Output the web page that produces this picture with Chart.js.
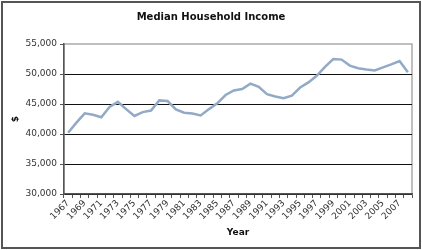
<!DOCTYPE html>
<html lang="en">
<head>
<meta charset="UTF-8">
<title>Median Household Income</title>
<script src="https://cdn.jsdelivr.net/npm/chart.js"></script>
<style>
  body { margin: 0; background: #fff; }
  .wrap { position: relative; width: 422px; height: 250px; }
</style>
</head>
<body>
<div class="wrap"><canvas id="chart"></canvas></div>
<script>
// data
var years = [1967, 1968, 1969, 1970, 1971, 1972, 1973, 1974, 1975, 1976, 1977, 1978, 1979,
  1980, 1981, 1982, 1983, 1984, 1985, 1986, 1987, 1988, 1989, 1990, 1991, 1992, 1993,
  1994, 1995, 1996, 1997, 1998, 1999, 2000, 2001, 2002, 2003, 2004, 2005, 2006, 2007, 2008];
var income = [40200, 41900, 43450, 43200, 42800, 44500, 45350, 44150, 43000, 43650, 43900,
  45600, 45500, 44100, 43550, 43400, 43100, 44150, 45100, 46500, 47250, 47500, 48400,
  47850, 46650, 46250, 45950, 46400, 47750, 48600, 49700, 51200, 52500, 52400, 51400,
  50950, 50750, 50600, 51100, 51600, 52150, 50300];
var yMin = 30000, yMax = 55000, yStep = 5000;

var frame = {
  id: 'frame',
  beforeDraw: function(chart) {
    var ctx = chart.ctx, a = chart.chartArea;
    ctx.save();
    ctx.fillStyle = '#fff';
    ctx.fillRect(0, 0, chart.width, chart.height);
    ctx.strokeStyle = '#555';
    ctx.lineWidth = 2;
    ctx.strokeRect(2, 2, chart.width - 4, chart.height - 4);
    ctx.strokeStyle = '#aaa';
    ctx.lineWidth = 1.5;
    ctx.strokeRect(a.left, a.top, a.right - a.left, a.bottom - a.top);
    ctx.restore();
  }
};

new Chart(document.getElementById('chart'), {
  type: 'line',
  data: {
    labels: years,
    datasets: [{
      data: income,
      borderColor: '#92aac6',
      borderWidth: 2.5,
      pointRadius: 0,
      tension: 0,
      fill: false
    }]
  },
  options: {
    responsive: true,
    maintainAspectRatio: false,
    animation: false,
    layout: { padding: { left: 10, right: 10, top: 0, bottom: 12 } },
    plugins: {
      legend: { display: false },
      tooltip: { enabled: false },
      title: {
        display: true,
        text: 'Median Household Income',
        color: '#111',
        font: { family: 'DejaVu Sans', size: 10, weight: 'bold' },
        padding: { top: 11, bottom: 21 }
      }
    },
    scales: {
      x: {
        offset: true,
        afterFit: function(s) { s.height = 44; },
        grid: { offset: true, drawOnChartArea: false, drawTicks: true, tickLength: 4, color: '#555' },
        border: { color: '#555', width: 1.5 },
        ticks: {
          autoSkip: false,
          maxRotation: 45,
          minRotation: 45,
          padding: 0,
          color: '#333',
          font: { family: 'DejaVu Sans', size: 9 },
          callback: function(v, i) { return i % 2 === 0 ? String(years[i]) : ''; }
        },
        title: {
          display: true,
          text: 'Year',
          color: '#111',
          font: { family: 'DejaVu Sans', size: 9, weight: 'bold' },
          padding: { top: 2, bottom: 0 }
        }
      },
      y: {
        min: yMin,
        max: yMax,
        afterFit: function(s) { s.width = 54; },
        grid: {
          color: function(c) { return c.tick.value === yMax ? 'rgba(0,0,0,0)' : '#111'; },
          tickColor: '#555',
          tickLength: 4,
          lineWidth: 1
        },
        border: { color: '#555', width: 1.5 },
        ticks: {
          stepSize: yStep,
          padding: 3,
          color: '#333',
          font: { family: 'DejaVu Sans', size: 9 },
          callback: function(v) { return v.toLocaleString('en-US'); }
        },
        title: {
          display: true,
          text: '$',
          color: '#111',
          font: { family: 'DejaVu Sans', size: 9, weight: 'bold' },
          padding: { top: 0, bottom: 4 }
        }
      }
    }
  },
  plugins: [frame]
});
</script>
</body>
</html>
